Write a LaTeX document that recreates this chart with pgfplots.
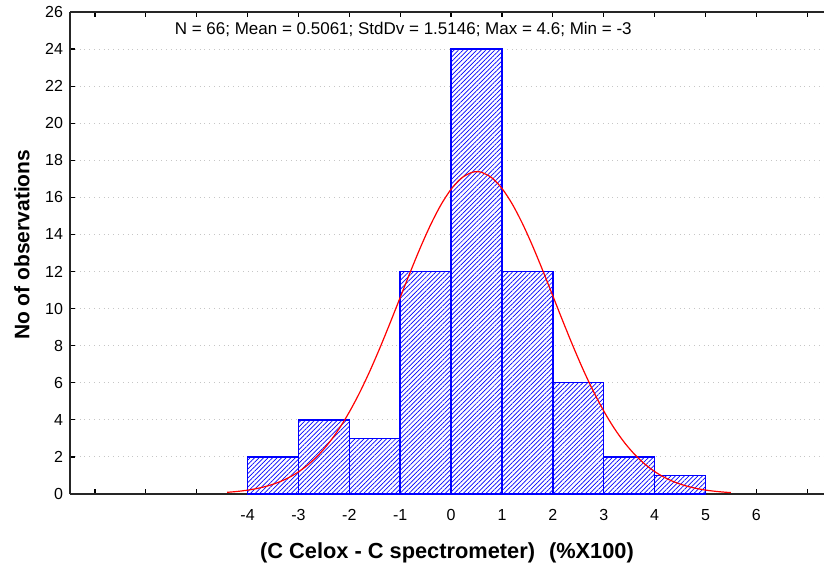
\documentclass[border=0pt]{standalone}
\usepackage{pgfplots}
\pgfplotsset{compat=1.18}
\usepackage{fontspec}
\setmainfont{Liberation Sans}
\usetikzlibrary{patterns,patterns.meta}

\begin{document}
\begin{tikzpicture}
\begin{axis}[
 name=ax,
 scale only axis, width=377pt, height=241pt,
 xmin=-7.49, xmax=7.33, ymin=0, ymax=26,
 axis x line=box, axis y line=left,
 axis line style={-, line width=0.8pt, black!85},
 xtick={-7,-6,-5,-4,-3,-2,-1,0,1,2,3,4,5,6,7},
 xticklabels={,,,-4,-3,-2,-1,0,1,2,3,4,5,6,},
 ytick={0,2,...,26},
 tick align=inside, major tick length=2.5pt,
 tick style={black, line width=0.6pt},
 ymajorgrids, grid style={gray!45, dotted, line width=0.5pt},
 ticklabel style={font=\fontsize{8}{9}\selectfont},
 xticklabel style={yshift=-4pt},
 /pgf/number format/assume math mode=true,
 xlabel={(C Celox - C spectrometer)\hspace{7pt}(\%X100)},
 ylabel={No of observations},
 label style={font=\fontsize{10.5}{12}\selectfont\bfseries},
 xlabel style={at={(axis description cs:0.5,0)}, anchor=center, yshift=-29.5pt, font=\fontsize{10.9}{12}\selectfont\bfseries},
 ylabel style={at={(axis description cs:-0.064,0.517)}, anchor=center},
 clip=false,
]
\addplot[ybar interval, draw=blue, line width=0.7pt, fill=white,
  postaction={pattern color=blue, pattern={Lines[angle=45, distance=1.6pt, line width=0.35pt]}}]
  coordinates {(-4,2) (-3,4) (-2,3) (-1,12) (0,24) (1,12) (2,6) (3,2) (4,1) (5,1)};
\addplot[red, line width=0.6pt, smooth, no markers] coordinates {
(-4.4,0.0915) (-4.2,0.1392) (-4.0,0.2080) (-3.8,0.3055) (-3.6,0.4408) (-3.4,0.6251)
(-3.2,0.8711) (-3.0,1.1929) (-2.8,1.6051) (-2.6,2.1224) (-2.4,2.7585) (-2.2,3.5234)
(-2.0,4.4223) (-1.8,5.4539) (-1.6,6.6108) (-1.4,7.8746) (-1.2,9.2179) (-1.0,10.603)
(-0.8,11.986) (-0.6,13.315) (-0.4,14.536) (-0.2,15.594) (0.0,16.440) (0.2,17.033)
(0.4,17.341) (0.5061,17.384) (0.6,17.351) (0.8,17.060) (1.0,16.484) (1.2,15.652)
(1.4,14.605) (1.6,13.393) (1.8,12.069) (2.0,10.687) (2.2,9.301) (2.4,7.955)
(2.6,6.685) (2.8,5.522) (3.0,4.481) (3.2,3.574) (3.4,2.802) (3.6,2.158)
(3.8,1.633) (4.0,1.215) (4.2,0.888) (4.4,0.638) (4.6,0.451) (4.8,0.313)
(5.0,0.213) (5.2,0.143) (5.4,0.094) (5.5,0.076)};
\node[font=\fontsize{8.5}{10}\selectfont, inner sep=1pt] at (axis cs:-0.94,25.05)
  {N = 66; Mean = 0.5061; StdDv = 1.5146; Max = 4.6; Min = -3};
\end{axis}
\path (ax.south west) ++(-35pt,-39pt) coordinate (bl);
\path (ax.north east) ++(0pt,6pt) coordinate (tr);
\pgfresetboundingbox
\useasboundingbox (bl) rectangle (tr);
\end{tikzpicture}
\end{document}
